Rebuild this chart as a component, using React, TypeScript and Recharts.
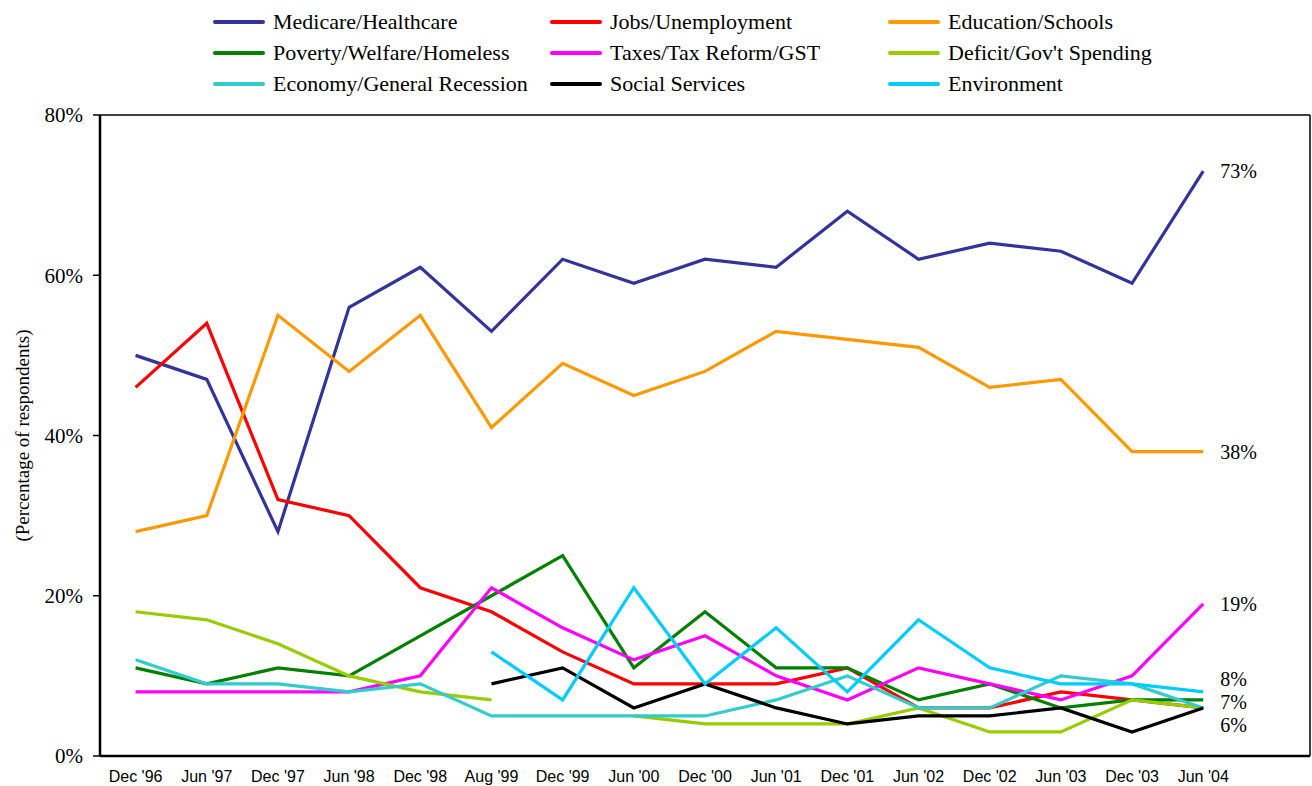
import React from 'react';
import { LineChart, Line, XAxis, YAxis, Legend, ReferenceLine, LabelList } from 'recharts';

const periods = ["Dec '96", "Jun '97", "Dec '97", "Jun '98", "Dec '98", "Aug '99", "Dec '99", "Jun '00", "Dec '00", "Jun '01", "Dec '01", "Jun '02", "Dec '02", "Jun '03", "Dec '03", "Jun '04", ""];

const medicare = [50, 47, 28, 56, 61, 53, 62, 59, 62, 61, 68, 62, 64, 63, 59, 73];
const jobs = [46, 54, 32, 30, 21, 18, 13, 9, 9, 9, 11, 6, 6, 8, 7, 6];
const education = [28, 30, 55, 48, 55, 41, 49, 45, 48, 53, 52, 51, 46, 47, 38, 38];
const poverty = [11, 9, 11, 10, 15, 20, 25, 11, 18, 11, 11, 7, 9, 6, 7, 7];
const taxes = [8, 8, 8, 8, 10, 21, 16, 12, 15, 10, 7, 11, 9, 7, 10, 19];
const deficit = [18, 17, 14, 10, 8, 7, null, 5, 4, 4, 4, 6, 3, 3, 7, 6];
const economy = [12, 9, 9, 8, 9, 5, 5, 5, 5, 7, 10, 6, 6, 10, 9, 6];
const social = [null, null, null, null, null, 9, 11, 6, 9, 6, 4, 5, 5, 6, 3, 6];
const environment = [null, null, null, null, null, 13, 7, 21, 9, 16, 8, 17, 11, 9, 9, 8];

const yTicks = [0, 20, 40, 60, 80];
const boundaryTicks = [0, 1, 2, 3, 4, 5, 6, 7, 8, 9, 10, 11, 12, 13, 14, 15, 16, 17];

const series = [
  { key: 'medicare', name: 'Medicare/Healthcare', color: '#333399', values: medicare, endLabel: true, dy: 0 },
  { key: 'jobs', name: 'Jobs/Unemployment', color: '#FF0000', values: jobs, endLabel: false, dy: 0 },
  { key: 'education', name: 'Education/Schools', color: '#FF9900', values: education, endLabel: true, dy: 0 },
  { key: 'poverty', name: 'Poverty/Welfare/Homeless', color: '#008000', values: poverty, endLabel: true, dy: 2 },
  { key: 'taxes', name: 'Taxes/Tax Reform/GST', color: '#FF00FF', values: taxes, endLabel: true, dy: 0 },
  { key: 'deficit', name: "Deficit/Gov't Spending", color: '#99CC00', values: deficit, endLabel: false, dy: 0 },
  { key: 'economy', name: 'Economy/General Recession', color: '#33CCCC', values: economy, endLabel: false, dy: 0 },
  { key: 'social', name: 'Social Services', color: '#000000', values: social, endLabel: true, dy: 17 },
  { key: 'environment', name: 'Environment', color: '#00CCFF', values: environment, endLabel: true, dy: -13 },
];

const data = periods.map((p, i) => {
  const row: any = { period: p };
  series.forEach((s) => {
    if (i < s.values.length && s.values[i] !== null) row[s.key] = s.values[i];
  });
  return row;
});

const LAST = medicare.length - 1;
const SERIF = '"Liberation Serif", "DejaVu Serif", serif';
const SANS = '"Liberation Sans", Arial, sans-serif';

const colStarts = [213, 550, 888];

const renderLegend = () => (
  <div style={{ position: 'relative', width: 1312, height: 100 }}>
    {series.map((s, i) => {
      const col = i % 3;
      const row = Math.floor(i / 3);
      return (
        <div
          key={s.key}
          style={{
            position: 'absolute',
            left: colStarts[col],
            top: 6 + row * 31,
            height: 31,
            display: 'flex',
            alignItems: 'center',
            whiteSpace: 'nowrap',
          }}
        >
          <span style={{ display: 'inline-block', width: 52, height: 4, background: s.color, borderRadius: 2, marginRight: 8 }} />
          <span style={{ fontFamily: SERIF, fontSize: 22, color: '#000', lineHeight: '31px' }}>{s.name}</span>
        </div>
      );
    })}
  </div>
);

const makeEndLabel = (dy: number) => (props: any) => {
  const { x, y, value, index } = props;
  if (index !== LAST || value === undefined || value === null) return <g />;
  return (
    <text x={x + 17} y={y + dy} dominantBaseline="central" fontFamily={SERIF} fontSize={20} fill="#000">
      {`${value}%`}
    </text>
  );
};

const YLabel = (props: any) => {
  const vb = props.viewBox || { x: 0, y: 0, width: 0, height: 0 };
  const cx = vb.x + 22;
  const cy = vb.y + vb.height / 2;
  return (
    <text x={cx} y={cy} transform={`rotate(-90 ${cx} ${cy})`} textAnchor="middle" dominantBaseline="central" fontFamily={SERIF} fontSize={19} fill="#000">
      (Percentage of respondents)
    </text>
  );
};

export default function App() {
  return (
    <div style={{ position: 'absolute', left: 0, top: 0, width: 1312, height: 786, background: '#fff' }}>
      <LineChart width={1312} height={786} data={data} margin={{ top: 15, right: 0, bottom: 0, left: 0 }}>
        <Legend verticalAlign="top" align="left" height={100} content={renderLegend} wrapperStyle={{ top: 0, left: 0 }} />
        <XAxis
          xAxisId="a-bounds"
          type="number"
          domain={[0, 17]}
          ticks={boundaryTicks}
          tick={false}
          axisLine={{ stroke: '#000', strokeWidth: 2.5 }}
          tickLine={{ stroke: '#000', strokeWidth: 1.5 }}
          tickSize={7}
          height={1}
          allowDataOverflow
        />
        <XAxis
          xAxisId="b-cat"
          dataKey="period"
          scale="band"
          interval={0}
          tickLine={false}
          tickSize={0}
          tickMargin={14}
          height={29}
          axisLine={false}
          tick={{ fontFamily: SANS, fontSize: 16, fill: '#000' }}
        />
        <YAxis
          domain={[0, 80]}
          ticks={yTicks}
          width={100}
          tickFormatter={(v: number) => `${v}%`}
          axisLine={{ stroke: '#000', strokeWidth: 2.5 }}
          tickLine={{ stroke: '#000', strokeWidth: 1.5 }}
          tickSize={7}
          tickMargin={10}
          tick={{ fontFamily: SERIF, fontSize: 21, fill: '#000' }}
          label={<YLabel />}
          allowDataOverflow
        />
        <YAxis
          yAxisId="right"
          orientation="right"
          domain={[0, 80]}
          width={2}
          tick={false}
          tickLine={false}
          axisLine={{ stroke: '#000', strokeWidth: 1.5 }}
        />
        <ReferenceLine xAxisId="b-cat" y={80} stroke="#000" strokeWidth={1.5} />
        {series.map((s) => (
          <Line
            key={s.key}
            xAxisId="b-cat"
            type="linear"
            dataKey={s.key}
            name={s.name}
            stroke={s.color}
            strokeWidth={3.2}
            dot={false}
            activeDot={false}
            isAnimationActive={false}
            connectNulls={false}
          >
            {s.endLabel ? <LabelList dataKey={s.key} content={makeEndLabel(s.dy)} /> : null}
          </Line>
        ))}
      </LineChart>
    </div>
  );
}
